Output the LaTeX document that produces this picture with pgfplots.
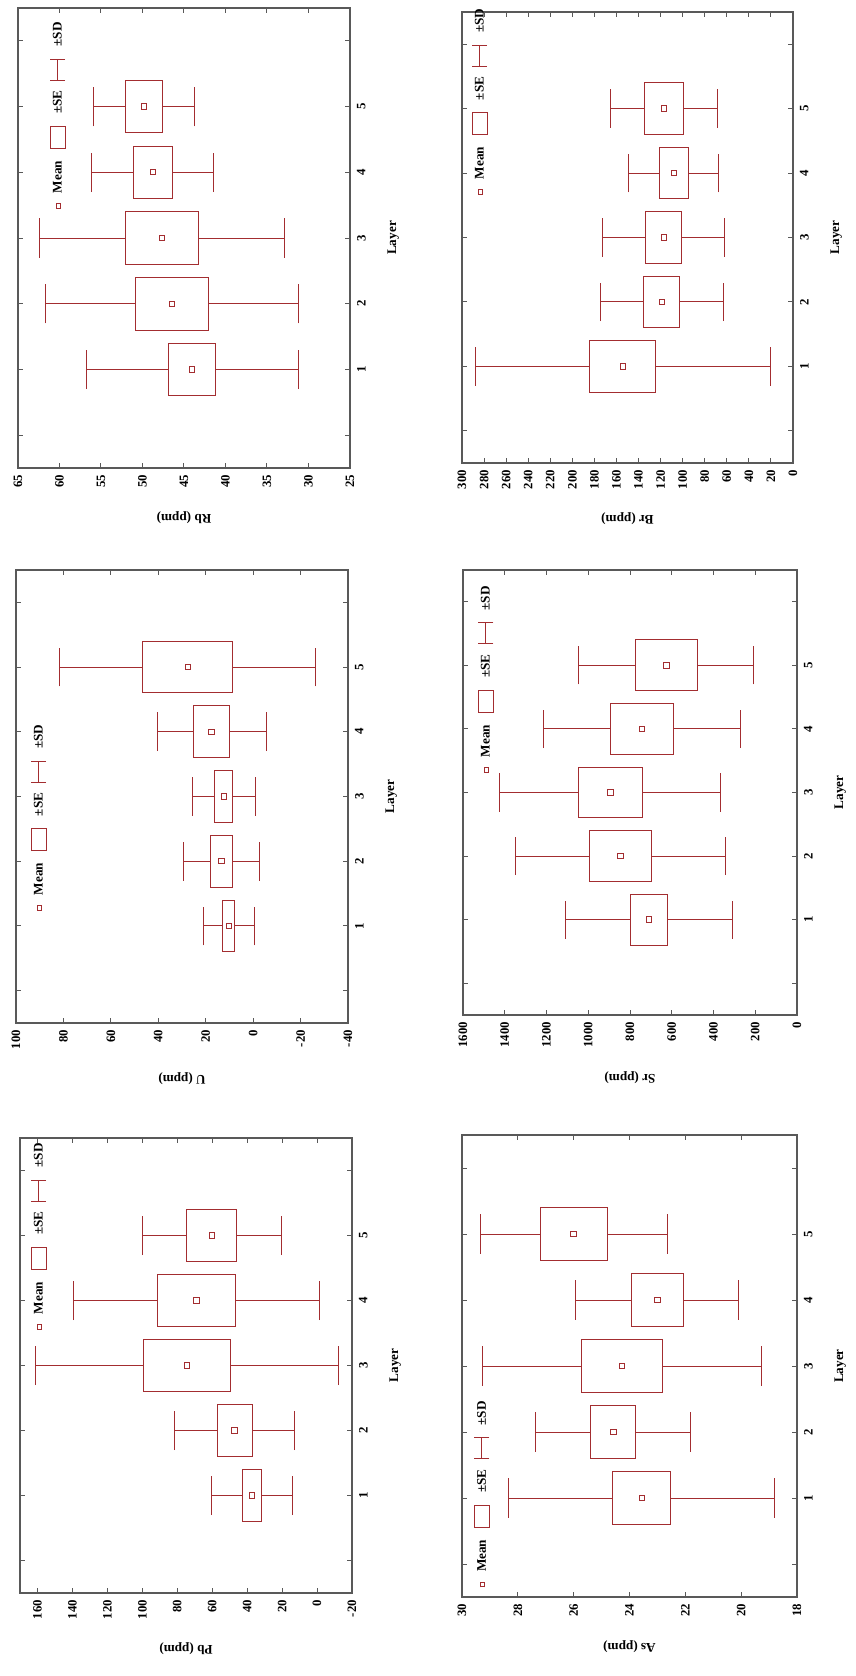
\documentclass[border=0pt]{standalone}
\usepackage{fontspec}
\setmainfont{Liberation Serif}
\usepackage{pgfplots}
\pgfplotsset{compat=1.18}
\usepgfplotslibrary{statistics}
\definecolor{bx}{RGB}{163,45,48}
\newcommand\tl{\fontsize{6.4}{7}\selectfont\bfseries}
\newcommand\lb{\fontsize{6.6}{7.5}\selectfont\bfseries}
\newcommand\lgd{{\setlength\fboxsep{0pt}\setlength\fboxrule{0.5pt}%
\raisebox{0.8pt}{\fcolorbox{bx}{white}{\rule{0pt}{1.7pt}\rule{1.7pt}{0pt}}}\hspace{5pt}Mean\hspace{6pt}%
\raisebox{-1.8pt}{\fcolorbox{bx}{white}{\rule{0pt}{7pt}\rule{10.5pt}{0pt}}}\hspace{6pt}±SE\hspace{5pt}%
\textcolor{bx}{\raisebox{-1.8pt}{\rule{0.5pt}{7.8pt}}\raisebox{1.85pt}{\rule{10pt}{0.5pt}}\raisebox{-1.8pt}{\rule{0.5pt}{7.8pt}}}\hspace{6pt}±SD}}
\newcommand\bp[6]{\addplot[bx, line width=0.5pt, boxplot prepared={draw position=#1, lower whisker=#2, lower quartile=#3, median=#4, upper quartile=#5, upper whisker=#6}] coordinates {};}
\tikzset{lgnode/.style={rotate=90, anchor=west, inner sep=0pt, font=\lb}}
\pgfplotsset{
  panel/.style={
    scale only axis, anchor=north west,
    x dir=reverse,
    ymin=-0.5, ymax=6.5, ytick={0,...,6}, yticklabels={{},1,2,3,4,5,{}},
    yticklabel pos=right, ytick pos=both, xtick pos=both,
    tick align=inside, major tick length=2.5pt,
    axis line style={draw=black!65, line width=0.8pt},
    every tick/.style={black!65, line width=0.5pt},
    tick label style={font=\tl},
    xticklabel style={rotate=90, anchor=east},
    yticklabel style={rotate=90, anchor=north},
    xlabel style={rotate=180, anchor=south, font=\lb},
    ylabel style={anchor=north, font=\lb},
    ylabel={Layer}, xlabel shift=5pt, ylabel shift=4pt,
    /pgf/number format/assume math mode=true,
    /pgf/number format/1000 sep={},
    boxplot/box extend=0.8, boxplot/whisker extend=0.6,
    boxplot/draw/median/.code={},
    clip=false,
  },
  meanmk/.style={only marks, mark=square*, mark size=1.35pt, mark options={draw=bx, fill=white, line width=0.5pt}},
}
\begin{document}
\begin{tikzpicture}
\path[use as bounding box] (0,0) rectangle (428pt,-838pt);
% Rb
\begin{axis}[panel, at={(9pt,-4pt)}, width=166pt, height=230pt, xmin=25, xmax=65, xtick distance=5, xlabel={Rb (ppm)}]
\bp{5}{43.7}{47.6}{49.8}{52.0}{55.9}
\bp{4}{41.4}{46.4}{48.75}{51.1}{56.1}
\bp{3}{32.9}{43.3}{47.65}{52.0}{62.4}
\bp{2}{31.25}{42.0}{46.45}{50.9}{61.65}
\bp{1}{31.2}{41.15}{44.0}{46.85}{56.8}
\addplot[meanmk] coordinates {(49.8,5) (48.75,4) (47.65,3) (46.45,2) (44.0,1)};
\node[lgnode] at (axis description cs:0.12,0.563) {\lgd};
\end{axis}
% U
\begin{axis}[panel, at={(8pt,-285pt)}, width=166pt, height=226.5pt, xmin=-40, xmax=100, xtick distance=20, xlabel={U (ppm)}]
\bp{5}{-26.5}{8.5}{27.5}{46.5}{81.5}
\bp{4}{-5.5}{10.0}{17.5}{25.0}{40.5}
\bp{3}{-0.9}{8.5}{12.35}{16.2}{25.6}
\bp{2}{-2.8}{8.55}{13.3}{18.05}{29.4}
\bp{1}{-0.5}{7.7}{10.3}{12.9}{21.1}
\addplot[meanmk] coordinates {(27.5,5) (17.5,4) (12.35,3) (13.3,2) (10.3,1)};
\node[lgnode] at (axis description cs:0.069,0.247) {\lgd};
\end{axis}
% Pb
\begin{axis}[panel, at={(10pt,-569pt)}, width=166pt, height=227.5pt, xmin=-20, xmax=170, xtick={-20,0,...,160}, xlabel={Pb (ppm)}]
\bp{5}{20.6}{45.9}{60.2}{74.5}{99.8}
\bp{4}{-1.5}{46.5}{69.0}{91.5}{139.5}
\bp{3}{-12.0}{49.5}{74.5}{99.5}{161.0}
\bp{2}{13.1}{37.2}{47.2}{57.2}{81.3}
\bp{1}{14.1}{31.95}{37.2}{42.45}{60.3}
\addplot[meanmk] coordinates {(60.2,5) (69.0,4) (74.5,3) (47.2,2) (37.2,1)};
\node[lgnode] at (axis description cs:0.057,0.578) {\lgd};
\end{axis}
% Br
\begin{axis}[panel, at={(231pt,-6pt)}, width=165.5pt, height=225.5pt, xmin=0, xmax=300, xtick distance=20, xlabel={Br (ppm)}]
\bp{5}{68.8}{99.35}{117.0}{134.65}{165.2}
\bp{4}{67.3}{94.9}{108.0}{121.1}{148.7}
\bp{3}{61.7}{100.65}{117.1}{133.55}{172.5}
\bp{2}{63.2}{102.85}{119.0}{135.15}{174.8}
\bp{1}{20.4}{124.4}{154.3}{184.2}{288.2}
\addplot[meanmk] coordinates {(117.0,5) (108.0,4) (117.1,3) (119.0,2) (154.3,1)};
\node[lgnode] at (axis description cs:0.054,0.594) {\lgd};
\end{axis}
% Sr
\begin{axis}[panel, at={(231.5pt,-285pt)}, width=167pt, height=222.5pt, xmin=0, xmax=1600, xtick distance=200, xlabel={Sr (ppm)}]
\bp{5}{207}{476}{626}{776}{1045}
\bp{4}{269.5}{590.5}{743}{895.5}{1216.5}
\bp{3}{364.5}{741.5}{894}{1046.5}{1423.5}
\bp{2}{342}{697.3}{845}{992.7}{1348}
\bp{1}{309}{619.5}{709}{798.5}{1109}
\addplot[meanmk] coordinates {(626,5) (743,4) (894,3) (845,2) (709,1)};
\node[lgnode] at (axis description cs:0.069,0.544) {\lgd};
\end{axis}
% As
\begin{axis}[panel, at={(231pt,-567.5pt)}, width=167.5pt, height=231pt, xmin=18, xmax=30, xtick distance=2, xlabel={As (ppm)}]
\bp{5}{22.65}{24.8}{26.0}{27.2}{29.35}
\bp{4}{20.08}{22.08}{23.0}{23.92}{25.92}
\bp{3}{19.27}{22.82}{24.27}{25.72}{29.27}
\bp{2}{21.8}{23.78}{24.58}{25.38}{27.36}
\bp{1}{18.79}{22.52}{23.56}{24.6}{28.33}
\addplot[meanmk] coordinates {(26.0,5) (23.0,4) (24.27,3) (24.58,2) (23.56,1)};
\node[lgnode] at (axis description cs:0.06,0.02) {\lgd};
\end{axis}
\end{tikzpicture}
\end{document}
